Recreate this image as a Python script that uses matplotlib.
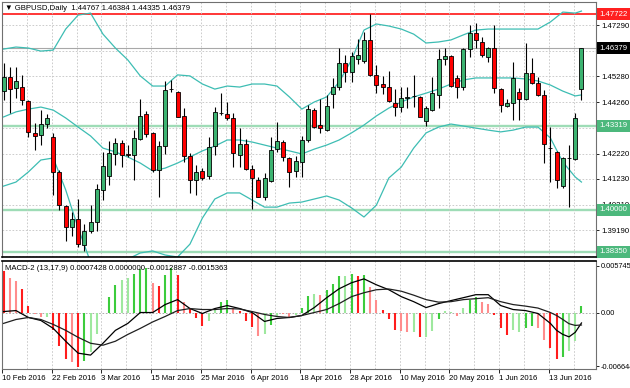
import matplotlib
matplotlib.use('Agg')
import matplotlib.pyplot as plt
import matplotlib.transforms as mtransforms

plt.rcParams['font.family'] = ['Liberation Sans', 'DejaVu Sans']

# daily GBPUSD bars, 10 Feb 2016 .. 20 Jun 2016
opens = [1.4469, 1.4525, 1.4481, 1.4485, 1.4430, 1.4304, 1.4296, 1.4339, 1.4288, 1.4150,
         1.4015, 1.3932, 1.3964, 1.3861, 1.3917, 1.3952, 1.4079, 1.4134, 1.4221, 1.4264,
         1.4219, 1.4217, 1.4280, 1.4379, 1.4304, 1.4158, 1.4252, 1.4479, 1.4465, 1.4371,
         1.4213, 1.4118, 1.4154, 1.4134, 1.4252, 1.4383, 1.4379, 1.4363, 1.4217, 1.4260,
         1.4162, 1.4118, 1.4051, 1.4114, 1.4240, 1.4268, 1.4205, 1.4154, 1.4189, 1.4276,
         1.4394, 1.4335, 1.4315, 1.4458, 1.4485, 1.4580, 1.4544, 1.4596, 1.4588, 1.4671,
         1.4533, 1.4497, 1.4485, 1.4422, 1.4406, 1.4442, 1.4448, 1.4446, 1.4351, 1.4394,
         1.4454, 1.4596, 1.4608, 1.4521, 1.4485, 1.4635, 1.4698, 1.4663, 1.4604, 1.4639,
         1.4477, 1.4410, 1.4422, 1.4466, 1.4438, 1.4541, 1.4501, 1.4454, 1.4245, 1.4229,
         1.4094, 1.4203, 1.4201, 1.44767]
highs = [1.4580, 1.4564, 1.4564, 1.4533, 1.4434, 1.4343, 1.4394, 1.4379, 1.4304, 1.4158,
         1.4019, 1.3992, 1.4043, 1.3944, 1.4019, 1.4102, 1.4229, 1.4272, 1.4284, 1.4276,
         1.4256, 1.4316, 1.4438, 1.4390, 1.4306, 1.4272, 1.4509, 1.4513, 1.4469, 1.4402,
         1.4225, 1.4177, 1.4165, 1.4288, 1.4406, 1.4462, 1.4426, 1.4383, 1.4323, 1.4280,
         1.4177, 1.4130, 1.4146, 1.4288, 1.4347, 1.4276, 1.4209, 1.4213, 1.4292, 1.4414,
         1.4402, 1.4438, 1.4454, 1.4521, 1.4639, 1.4612, 1.4623, 1.4675, 1.4702, 1.4772,
         1.4572, 1.4529, 1.4548, 1.4477, 1.4485, 1.4485, 1.4533, 1.4450, 1.4410, 1.4525,
         1.4635, 1.4639, 1.4612, 1.4533, 1.4639, 1.4730, 1.4738, 1.4683, 1.4643, 1.4730,
         1.4481, 1.4438, 1.4584, 1.4481, 1.4659, 1.4600, 1.4525, 1.4473, 1.4327, 1.4233,
         1.4209, 1.4256, 1.4383, 1.46384]
lows = [1.4434, 1.4383, 1.4442, 1.4414, 1.4288, 1.4237, 1.4256, 1.4323, 1.4059, 1.3999,
        1.3877, 1.3897, 1.3854, 1.3836, 1.3909, 1.3917, 1.4039, 1.4098, 1.4177, 1.4169,
        1.4209, 1.4118, 1.4276, 1.4288, 1.4150, 1.4051, 1.4221, 1.4465, 1.4365, 1.4189,
        1.4067, 1.4059, 1.4118, 1.4122, 1.4217, 1.4375, 1.4355, 1.4169, 1.4169, 1.4158,
        1.4004, 1.4049, 1.4039, 1.4110, 1.4229, 1.4193, 1.4090, 1.4130, 1.4130, 1.4268,
        1.4323, 1.4304, 1.4311, 1.4402, 1.4473, 1.4505, 1.4505, 1.4576, 1.4580, 1.4529,
        1.4462, 1.4458, 1.4426, 1.4371, 1.4387, 1.4402, 1.4406, 1.4365, 1.4331, 1.4390,
        1.4402, 1.4572, 1.4485, 1.4442, 1.4473, 1.4604, 1.4639, 1.4604, 1.4584, 1.4462,
        1.4387, 1.4406, 1.4355, 1.4355, 1.4434, 1.4497, 1.4450, 1.4185, 1.4110, 1.4086,
        1.4086, 1.4011, 1.4197, 1.44335]
closes = [1.4525, 1.4477, 1.4509, 1.4434, 1.4307, 1.4292, 1.4339, 1.4363, 1.4150, 1.4019,
          1.3932, 1.3964, 1.3865, 1.3917, 1.3952, 1.4082, 1.4173, 1.4225, 1.4264, 1.4217,
          1.4215, 1.4284, 1.4371, 1.4300, 1.4158, 1.4252, 1.4473, 1.4477, 1.4368, 1.4213,
          1.4118, 1.4150, 1.4126, 1.4248, 1.4387, 1.4382, 1.4363, 1.4225, 1.4260, 1.4162,
          1.4126, 1.4051, 1.4126, 1.4237, 1.4272, 1.4209, 1.4150, 1.4193, 1.4276, 1.4398,
          1.4327, 1.4323, 1.4410, 1.4485, 1.4580, 1.4544, 1.4608, 1.4612, 1.4671, 1.4533,
          1.4493, 1.4485, 1.4430, 1.4406, 1.4442, 1.4445, 1.4450, 1.4367, 1.4402, 1.4462,
          1.4596, 1.4608, 1.4489, 1.4485, 1.4635, 1.4698, 1.4671, 1.4612, 1.4639, 1.4481,
          1.4414, 1.4422, 1.4521, 1.4438, 1.4541, 1.4501, 1.4454, 1.4260, 1.4243, 1.4118,
          1.4205, 1.4206, 1.4363, 1.46379]

# bollinger bands, read every second bar
band_idx = list(range(0, 93, 2)) + [93]
bb_upper = [1.4635, 1.4643, 1.4639, 1.4627, 1.4631, 1.4714, 1.4769, 1.4777, 1.4694, 1.4639,
            1.4592, 1.4529, 1.4489, 1.4489, 1.4533, 1.4529, 1.4497, 1.4477, 1.4489, 1.4485,
            1.4497, 1.4497, 1.4489, 1.4446, 1.4398, 1.4426, 1.4446, 1.4505, 1.4592, 1.4710,
            1.4734, 1.4726, 1.4714, 1.4694, 1.4659, 1.4663, 1.4671, 1.4691, 1.4710, 1.4714,
            1.4714, 1.4714, 1.4714, 1.4714, 1.4742, 1.4781, 1.4777, 1.4785]
bb_middle = [1.4367, 1.4387, 1.4398, 1.4406, 1.4394, 1.4363, 1.4327, 1.4292, 1.4244, 1.4229,
             1.4209, 1.4185, 1.4154, 1.4165, 1.4185, 1.4209, 1.4233, 1.4252, 1.4276, 1.4276,
             1.4268, 1.4256, 1.4244, 1.4233, 1.4221, 1.4240, 1.4256, 1.4276, 1.4304, 1.4335,
             1.4371, 1.4402, 1.4426, 1.4446, 1.4461, 1.4477, 1.4497, 1.4513, 1.4521, 1.4521,
             1.4521, 1.4521, 1.4517, 1.4509, 1.4493, 1.4469, 1.4450, 1.4454]
bb_lower = [1.4094, 1.4110, 1.4150, 1.4197, 1.4205, 1.4079, 1.3929, 1.3794, 1.3763, 1.3779,
            1.3806, 1.3830, 1.3838, 1.3822, 1.3814, 1.3865, 1.3968, 1.4043, 1.4067, 1.4067,
            1.4039, 1.4011, 1.4011, 1.4027, 1.4031, 1.4043, 1.4055, 1.4039, 1.4008, 1.3972,
            1.4019, 1.4126, 1.4169, 1.4244, 1.4304, 1.4327, 1.4339, 1.4331, 1.4323, 1.4315,
            1.4308, 1.4315, 1.4327, 1.4327, 1.4284, 1.4189, 1.4130, 1.4110]

# MACD-2 (13,17,9)
macd_hist = [0.00513, 0.00431, 0.0039, 0.0029, 0.00086, -0.0002, -0.00057, -0.0006, -0.0022, -0.0041,
             -0.0057, -0.0061, -0.0067, -0.0060, -0.0049, -0.0027, -0.0001, 0.00187, 0.0034, 0.0040,
             0.0042, 0.0047, 0.0054, 0.0055, 0.0037, 0.0033, 0.0046, 0.0055, 0.0046, 0.00126,
             0.0005, -0.0007, -0.0017, -0.0010, 0.0004, 0.0013, 0.0016, 0.0005, 0.0002, -0.0010,
             -0.0018, -0.0029, -0.0027, -0.0015, -0.0004, -0.0002, -0.0006, -0.0003, 0.0005, 0.0020,
             0.0023, 0.00216, 0.0028, 0.0035, 0.0045, 0.0045, 0.0048, 0.0045, 0.0046, 0.0031,
             0.00155, 0.0003, -0.00086, -0.0021, -0.0023, -0.0024, -0.0024, -0.0030, -0.0030, -0.0023,
             -0.0008, 0.00024, 0.00005, -0.00045, 0.0005, 0.0015, 0.0019, 0.0013, 0.0010, -0.0003,
             -0.0019, -0.0028, -0.0022, -0.0024, -0.0019, -0.0017, -0.0019, -0.0034, -0.0044, -0.0057,
             -0.0055, -0.0048, -0.0035, 0.0007428]
hist_state = ('RrrRRrrgRRRrRGggGGGggGGGrRGGRrRRRggGGrRRRrgGgrrgGGgrGGGgGRGrrRRRrrgRggGggrgGGrrRRRggGGrrRRGggG')

macd_idx = list(range(0, 89, 2)) + [89, 90, 91, 92, 93]
macd_fast = [0.00012, 0.00024, -0.00061, -0.00098, -0.00196, -0.00354, -0.00501, -0.00525, -0.00379, -0.00220,
             -0.00134, 0.0, 0.0, 0.00098, 0.00159, 0.00049, -0.00012, 0.00049, 0.00086, 0.00049,
             0.0, -0.0011, -0.00073, -0.00061, -0.00037, 0.00061, 0.00183, 0.00293, 0.00367, 0.00415,
             0.00342, 0.00281, 0.00196, 0.00134, 0.00061, 0.0011, 0.00147, 0.00183, 0.0022, 0.0022,
             0.00086, 0.00037, 0.00024, -0.00012, -0.00134,
             -0.0022, -0.0027, -0.0030, -0.00244, -0.0012887]
macd_slow = [-0.00134, -0.00086, -0.00061, -0.00086, -0.00147, -0.0022, -0.00306, -0.00379, -0.00403, -0.00354,
             -0.0027, -0.00196, -0.00116, -0.00049, 0.00024, 0.00049, 0.00037, 0.00037, 0.00049, 0.00043,
             0.00012, -0.00024, -0.00049, -0.00061, -0.00037, 0.0, 0.00037, 0.0011, 0.00196, 0.00244,
             0.00281, 0.0029, 0.00263, 0.00214, 0.00159, 0.00128, 0.00134, 0.00159, 0.00171, 0.00183,
             0.00134, 0.00098, 0.00079, 0.00055, 0.0,
             -0.00037, -0.00086, -0.00138, -0.00159, -0.0015363]

price_ticks = [1.47290, 1.46270, 1.45280, 1.44260, 1.43250, 1.42220, 1.41230, 1.40210, 1.39190, 1.38200]
levels = [1.43319, 1.40000, 1.38350]
resistance = 1.47722
last_price = 1.46379

date_pos = list(range(0, 89, 8))
date_labels = ['10 Feb 2016', '22 Feb 2016', '3 Mar 2016', '15 Mar 2016', '25 Mar 2016', '6 Apr 2016',
               '18 Apr 2016', '28 Apr 2016', '10 May 2016', '20 May 2016', '1 Jun 2016', '13 Jun 2016']

# ---------------------------------------------------------------
W, H = 630.0, 388.0


def px_rect(l, t, r, b):
    return [l / W, 1 - b / H, (r - l) / W, (b - t) / H]


fig = plt.figure(figsize=(6.3, 3.88), dpi=100)
ax = fig.add_axes(px_rect(2, 2, 596, 257))
ax2 = fig.add_axes(px_rect(2, 261, 596, 369), sharex=ax)

bull_c = '#3cb371'
bear_c = '#ff0000'
band_c = '#3dbdb3'
level_c = '#9edcb6'
grid_c = '#c4c4c4'
fs = 5.6

n = len(closes)
xs = list(range(n))
body_lo = [min(o, c) for o, c in zip(opens, closes)]
body_h = [max(abs(c - o), 0.00003) for o, c in zip(opens, closes)]
colors = [bull_c if c > o else bear_c for o, c in zip(opens, closes)]

ax.vlines(xs, lows, highs, color='black', lw=0.8, zorder=3)
ax.bar(xs, body_h, bottom=body_lo, width=0.64, color=colors, edgecolor='black', lw=0.6, zorder=4)

ax.plot(band_idx, bb_upper, color=band_c, lw=0.9, zorder=2)
ax.plot(band_idx, bb_middle, color=band_c, lw=0.9, zorder=2)
ax.plot(band_idx, bb_lower, color=band_c, lw=0.9, zorder=2)

for lv in levels:
    ax.axhline(lv, color=level_c, lw=1.7, zorder=1.5)
ax.axhline(resistance, color='red', lw=1.1, zorder=1.5)
ax.axhline(last_price, color='#a8a8a8', lw=0.8, zorder=1.5)

ax.set_xlim(-0.16, 95.34)
ax.set_ylim(1.38141, 1.48208)
ax2.set_ylim(-0.006965, 0.006354)

# x grid / date ticks (grid sits a quarter bar left of the bar)
ax2.set_xticks([p - 0.25 for p in date_pos])
ax2.set_xticks([p + 3.75 for p in date_pos], minor=True)
ax2.set_xticklabels(date_labels, ha='left', fontsize=fs)
ax2.tick_params(axis='x', which='major', length=3, width=0.6, pad=1.5)
ax2.tick_params(axis='x', which='minor', length=0)
ax.tick_params(axis='x', which='both', length=0, labelbottom=False)

for a in (ax, ax2):
    a.grid(True, axis='x', which='both', color=grid_c, lw=0.6, linestyle=(0, (2, 2)), zorder=0)

# scale labels hidden behind the price boxes are left blank
boxed = [last_price] + levels
tick_text = []
for v in price_ticks:
    if any(abs(v - b) < 0.0013 for b in boxed):
        tick_text.append('')
    else:
        tick_text.append('%.5f' % v)

ax.yaxis.tick_right()
ax.set_yticks(price_ticks)
ax.set_yticklabels(tick_text, fontsize=fs)
ax.tick_params(axis='y', length=2, width=0.6, pad=2)
ax.grid(True, axis='y', color=grid_c, lw=0.6, linestyle=(0, (2, 2)), zorder=0)

# price boxes on the right scale
tr = mtransforms.blended_transform_factory(ax.transAxes, ax.transData)
boxes = [(resistance, '#ff2020'), (last_price, 'black')] + [(lv, '#4cb87c') for lv in levels]
for val, fc in boxes:
    ax.text(1.006, val, '%.5f' % val, transform=tr, fontsize=fs, color='white', ha='left', va='center',
            clip_on=False, zorder=10,
            bbox=dict(boxstyle='square,pad=0.32', fc=fc, ec='none'))

# MACD pane
hist_colors = {'G': '#3ccc3c', 'g': '#9ee89e', 'R': '#ff1c1c', 'r': '#ff8c8c'}
ax2.vlines(xs, 0, macd_hist, colors=[hist_colors[s] for s in hist_state], lw=1.5, zorder=2)
ax2.axhline(0, color='#a0a0a0', lw=0.6, linestyle=(0, (2, 2)), zorder=1)
ax2.plot(macd_idx, macd_fast, color='black', lw=0.9, zorder=3)
ax2.plot(macd_idx, macd_slow, color='#202020', lw=0.9, zorder=3)

ax2.yaxis.tick_right()
ax2.set_yticks([0.005745, 0.0, -0.006644])
ax2.set_yticklabels(['0.005745', '0.00', '-0.006644'], fontsize=5.3)
ax2.tick_params(axis='y', length=2, width=0.6, pad=1.5)

for a in (ax, ax2):
    for s in a.spines.values():
        s.set_color('#707070')
        s.set_linewidth(0.8)
ax.spines['bottom'].set_color('black')
ax.spines['bottom'].set_linewidth(1.2)
ax2.spines['top'].set_color('black')
ax2.spines['top'].set_linewidth(1.2)

fig.text(5 / W, 1 - 8 / H, '\u25bc GBPUSD,Daily  1.44767 1.46384 1.44335 1.46379',
         fontsize=fs, va='center', ha='left')
fig.text(5 / W, 1 - 268 / H, 'MACD-2 (13,17,9) 0.0007428 0.0000000 -0.0012887 -0.0015363',
         fontsize=fs, va='center', ha='left')

fig.savefig('out.png', dpi=100)
